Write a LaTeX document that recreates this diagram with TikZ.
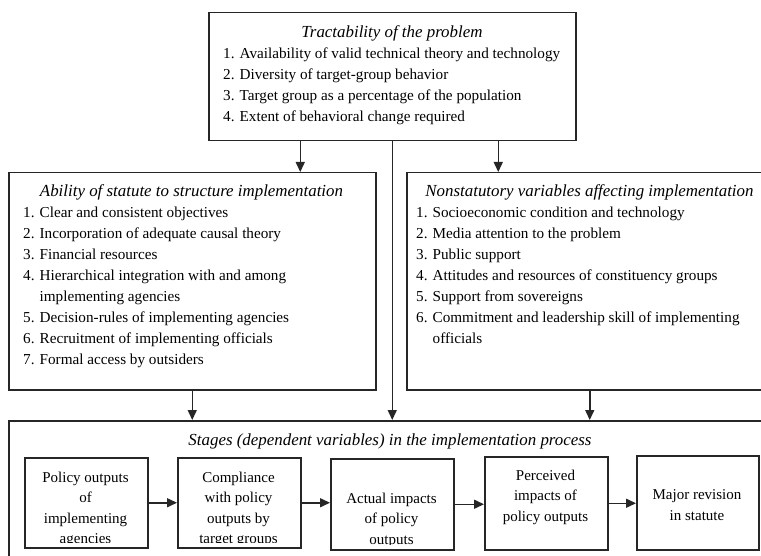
\documentclass[tikz,border=0pt]{standalone}
\usepackage{fontspec}
\setmainfont{Liberation Serif}
\usetikzlibrary{arrows.meta,calc,positioning}
\definecolor{lineGray}{HTML}{262626}
\tikzset{
  >={Triangle[length=10pt,width=9pt]},
  every node/.style={font=\fontsize{15.2}{21}\selectfont, inner sep=0pt},
  bigbox/.style={draw=lineGray, line width=1.5pt, anchor=north west},
  stagebox/.style={draw=lineGray, line width=1.5pt, anchor=north west, minimum width=123pt},
  boxtitle/.style={font=\fontsize{16.9}{21}\selectfont\itshape, anchor=base},
  itemlist/.style={align=left, anchor=north west},
  stagetext/.style={font=\fontsize{15}{20.5}\selectfont, align=center, anchor=north},
  flow/.style={->, line width=1.5pt, draw=lineGray},
}
\begin{document}
\begin{tikzpicture}[x=1pt,y=-1pt]
  \clip (0,0) rectangle (761,556);

  % outer boxes
  \node[bigbox, minimum width=367pt, minimum height=128pt] (tract) at (208,12) {};
  \node[bigbox, minimum width=367pt, minimum height=217pt] (statute) at (8,172) {};
  \node[bigbox, minimum width=366pt, minimum height=217pt] (nonstat) at (406,172) {};
  \node[bigbox, minimum width=764pt, minimum height=170pt] (stages) at (8,420) {};

  % box texts
  \node[boxtitle] (tractT) at (392,38) {Tractability of the problem};
  \node[itemlist] (tractL) at (223,47.6) {1. Availability of valid technical theory and technology\\
    2. Diversity of target-group behavior\\
    3. Target group as a percentage of the population\\
    4. Extent of behavioral change required};

  \node[boxtitle] (statuteT) at (191.5,197) {Ability of statute to structure implementation};
  \node[itemlist] (statuteL) at (23,206.6) {1. Clear and consistent objectives\\
    2. Incorporation of adequate causal theory\\
    3. Financial resources\\
    4. Hierarchical integration with and among\\
    \phantom{4. }implementing agencies\\
    5. Decision-rules of implementing agencies\\
    6. Recruitment of implementing officials\\
    7. Formal access by outsiders};

  \node[boxtitle] (nonstatT) at (589.5,197) {Nonstatutory variables affecting implementation};
  \node[itemlist] (nonstatL) at (416,206.6) {1. Socioeconomic condition and technology\\
    2. Media attention to the problem\\
    3. Public support\\
    4. Attitudes and resources of constituency groups\\
    5. Support from sovereigns\\
    6. Commitment and leadership skill of implementing\\
    \phantom{6. }officials};

  \node[boxtitle] (stagesT) at (390,445) {Stages (dependent variables) in the implementation process};

  % stage boxes
  \node[stagebox, minimum height=90pt] (s1) at (24,457) {};
  \node[stagebox, minimum height=90pt] (s2) at (177,457) {};
  \node[stagebox, minimum height=91pt] (s3) at (330,458) {};
  \node[stagebox, minimum height=93pt] (s4) at (484,456) {};
  \node[stagebox, minimum width=122pt, minimum height=94pt] (s5) at (636,455) {};

  \begin{scope}
    \clip (s1.north west) rectangle ($(s1.south east)+(0,-6)$);
    \node[stagetext] (s1T) at (85.5,471.6) {Policy outputs\\of\\implementing\\agencies};
  \end{scope}
  \begin{scope}
    \clip (s2.north west) rectangle ($(s2.south east)+(0,-6)$);
    \node[stagetext] (s2T) at (238.5,471.6) {Compliance\\with policy\\outputs by\\target groups};
  \end{scope}
  \begin{scope}
    \clip (s3.north west) rectangle ($(s3.south east)+(0,-6)$);
    \node[stagetext] (s3T) at (391.5,492.6) {Actual impacts\\of policy\\outputs};
  \end{scope}
  \node[stagetext] (s4T) at (545.5,469.6) {Perceived\\impacts of\\policy outputs};
  \node[stagetext] (s5T) at (697,489.6) {Major revision\\in statute};

  % arrows
  \coordinate (tl) at ($(tract.south)+(-92,0)$);
  \coordinate (tr) at ($(tract.south)+(106,0)$);
  \draw[flow] (tl) -- (tl |- statute.north);
  \draw[flow] (tr) -- (tr |- nonstat.north);
  \draw[flow] (tract.south) -- (tract.south |- stages.north);
  \draw[flow] (statute.south) -- (statute.south |- stages.north);
  \draw[flow] (nonstat.south) -- (nonstat.south |- stages.north);

  \foreach \u/\v in {s1/s2,s2/s3,s3/s4,s4/s5}{\draw[flow] (\u.east) -- (\u.east -| \v.west);}
\end{tikzpicture}
\end{document}
